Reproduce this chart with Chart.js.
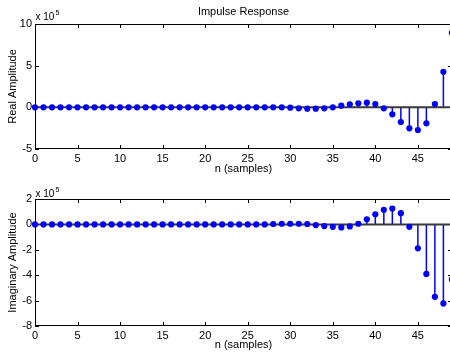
<!DOCTYPE html>
<html>
<head>
<meta charset="utf-8">
<script src="https://cdn.jsdelivr.net/npm/chart.js@4.4.1/dist/chart.umd.min.js"></script>
<style>
  html, body { margin: 0; padding: 0; background: #fff; overflow: hidden; width: 450px; height: 352px; }
  canvas { position: absolute; left: 0; }
  #c1 { top: 0; }
  #c2 { top: 176px; }
</style>
</head>
<body>
<canvas id="c1" width="455" height="176"></canvas>
<canvas id="c2" width="455" height="176"></canvas>
<script>
// ---- data (amplitudes in units of 10^5) ----
const samples = [0,1,2,3,4,5,6,7,8,9,10,11,12,13,14,15,16,17,18,19,20,21,22,23,24,25,26,27,28,29,30,31,32,33,34,35,36,37,38,39,40,41,42,43,44,45,46,47,48,49];
const realAmp = [0,0,0,0,0,0,0,0,0,0,0,0,0,0,0,0,0,0,0,0,0,0,0,0,0,0,0,0,0,0,
                 -0.04,-0.12,-0.16,-0.16,-0.12,0,0.2,0.36,0.48,0.56,0.4,-0.12,-0.84,-1.76,-2.52,-2.72,-1.92,0.4,4.26,8.94];
const imagAmp = [0,0,0,0,0,0,0,0,0,0,0,0,0,0,0,0,0,0,0,0,0,0,0,0,0,0,0,0,
                 0.03,0.05,0.05,0.05,0.03,-0.05,-0.13,-0.19,-0.24,-0.16,0.05,0.4,0.8,1.15,1.25,0.88,-0.19,-1.88,-3.9,-5.7,-6.22,-4.33];
const realTicks = {min: -5, max: 10, step: 5};
const imagTicks = {min: -8, max: 2, step: 2};
const xTicks = {min: 0, max: 49, step: 5};
const exponentLabel = '5';
const titleText = 'Impulse Response';
const xLabel = 'n (samples)';
const realLabel = 'Real Amplitude';
const imagLabel = 'Imaginary Amplitude';

const FONT = "'Liberation Sans', Arial, Helvetica, sans-serif";
Chart.defaults.font.family = FONT;
Chart.defaults.font.size = 11;
Chart.defaults.color = '#000';

const stemPlugin = {
  id: 'matlabStem',
  beforeDatasetsDraw(chart, args, opts) {
    const {ctx, chartArea: a, scales: {x, y}} = chart;
    ctx.save();
    // axes box
    ctx.strokeStyle = '#000';
    ctx.lineWidth = 1;
    ctx.strokeRect(a.left + 0.5, a.top + 0.5, a.right - a.left, a.bottom - a.top - 1);
    // inward ticks
    const tl = 4;
    ctx.beginPath();
    x.ticks.forEach(t => {
      const px = Math.round(x.getPixelForValue(t.value)) + 0.5;
      ctx.moveTo(px, a.bottom); ctx.lineTo(px, a.bottom - tl);
      ctx.moveTo(px, a.top); ctx.lineTo(px, a.top + tl);
    });
    y.ticks.forEach(t => {
      const py = Math.round(y.getPixelForValue(t.value)) + 0.5;
      ctx.moveTo(a.left, py); ctx.lineTo(a.left + tl, py);
      ctx.moveTo(a.right, py); ctx.lineTo(a.right - tl, py);
    });
    ctx.stroke();
    // stems
    const y0 = y.getPixelForValue(0);
    ctx.strokeStyle = '#0000ff';
    ctx.lineWidth = 1.5;
    chart.data.datasets[0].data.forEach(p => {
      const px = x.getPixelForValue(p.x);
      ctx.beginPath();
      ctx.moveTo(px, y0);
      ctx.lineTo(px, y.getPixelForValue(p.y));
      ctx.stroke();
    });
    // baseline
    ctx.strokeStyle = '#3a3a3a';
    ctx.lineWidth = 2;
    ctx.beginPath();
    ctx.moveTo(a.left, y0);
    ctx.lineTo(a.right, y0);
    ctx.stroke();
    ctx.restore();
  },
  afterDraw(chart, args, opts) {
    const {ctx, chartArea: a} = chart;
    ctx.save();
    ctx.fillStyle = '#000';
    if (opts.title) {
      ctx.font = '11px ' + FONT;
      ctx.textAlign = 'center';
      ctx.textBaseline = 'alphabetic';
      ctx.fillText(opts.title, (a.left + a.right) / 2, 15);
    }
    // exponent label
    ctx.textAlign = 'left';
    ctx.textBaseline = 'alphabetic';
    ctx.font = '10px ' + FONT;
    const base = 'x 10';
    ctx.fillText(base, a.left + 0.5, opts.expY);
    const w = ctx.measureText(base).width;
    ctx.font = '7px ' + FONT;
    ctx.fillText(exponentLabel, a.left + 1.5 + w, opts.expY - 5);
    ctx.restore();
  }
};

function makeChart(id, values, yt, yLabel, opts) {
  const pts = samples.map((n, i) => ({x: n, y: values[i]}));
  return new Chart(document.getElementById(id), {
    type: 'scatter',
    data: {
      datasets: [{
        data: pts,
        pointRadius: 3.1,
        pointHoverRadius: 3.1,
        pointBackgroundColor: '#0000ff',
        pointBorderWidth: 0,
        showLine: false,
        clip: false
      }]
    },
    options: {
      responsive: false,
      animation: false,
      events: [],
      layout: {padding: {top: opts.top, left: 0, right: 0, bottom: 0}},
      plugins: {
        legend: {display: false},
        tooltip: {enabled: false},
        title: {display: false},
        matlabStem: {title: opts.title, expY: opts.expY}
      },
      scales: {
        x: {
          type: 'linear',
          min: xTicks.min, max: xTicks.max,
          grid: {display: false, drawTicks: false},
          border: {display: false},
          ticks: {stepSize: xTicks.step, includeBounds: false, padding: 3, maxRotation: 0, color: '#000', font: {size: 11}},
          title: {display: true, text: xLabel, padding: {top: 0, bottom: 0}, color: '#000', font: {size: 11}},
          afterFit(s) { s.height = opts.xh; }
        },
        y: {
          type: 'linear',
          min: yt.min, max: yt.max,
          grid: {display: false, drawTicks: false},
          border: {display: false},
          ticks: {stepSize: yt.step, includeBounds: false, padding: 3, color: '#000', font: {size: 11}},
          title: {display: true, text: yLabel, padding: {top: 6, bottom: 0}, color: '#000', font: {size: 11}},
          afterFit(s) { s.width = 35; }
        }
      }
    },
    plugins: [stemPlugin]
  });
}

makeChart('c1', realAmp, realTicks, realLabel, {top: 24, xh: 27, title: titleText, expY: 20});
makeChart('c2', imagAmp, imagTicks, imagLabel, {top: 23, xh: 26, title: null, expY: 20.5});
</script>
</body>
</html>
